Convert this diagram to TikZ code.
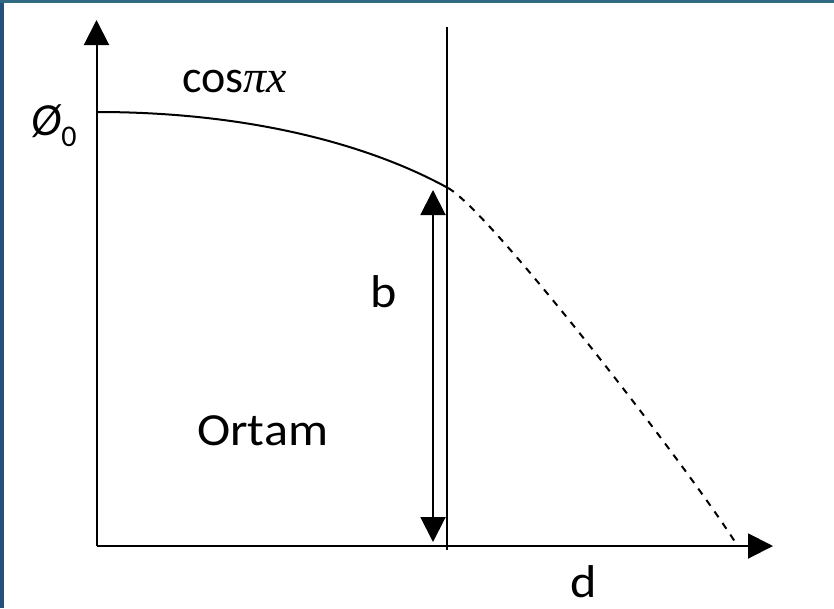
\documentclass[tikz,border=0pt]{standalone}
\usepackage{fontspec}
\setmainfont{Carlito}
\newfontfamily\widefont{Carlito}[FakeStretch=1.09]
\newfontfamily\eqfont{Liberation Serif}
\usetikzlibrary{arrows.meta}
\definecolor{leftblue}{HTML}{25507A}
\definecolor{topteal}{HTML}{326A84}
\tikzset{
  tri/.tip={Triangle[length=25pt,width=25pt]},
  axisline/.style={line width=2pt, -tri},
  thinline/.style={line width=2pt},
  curve/.style={line width=2pt, line join=round},
  dashcurve/.style={line width=2pt, dash pattern=on 7pt off 7pt},
  lbl/.style={anchor=base west, inner sep=0pt, font=\fontsize{46}{55}\selectfont},
}
\begin{document}
\begin{tikzpicture}[x=1pt,y=-1pt]
\fill[white] (0,0) rectangle (834,608);
\useasboundingbox (0,0) rectangle (834,608);
\fill[leftblue] (0,0) rectangle (4,608);
\fill[topteal] (0,0) rectangle (834,2.5);
% coordinates
\coordinate (O) at (96.5,546);
\coordinate (ytip) at (96.5,20);
\coordinate (xtip) at (773,546);
\coordinate (vtop) at (447,27);
\coordinate (vbot) at (447,550);
\coordinate (atop) at (433,190);
\coordinate (abot) at (433,542);
\coordinate (c0) at (97,112);
\coordinate (c1) at (448,188);
\coordinate (c2) at (737,545);
% axes
\draw[axisline] (O) -- (ytip);
\draw[axisline] (O) -- (xtip);
% vertical line
\draw[thinline] (vtop) -- (vbot);
% double arrow
\draw[thinline, tri-tri] (atop) -- (abot);
% curve: solid part and dashed part
\draw[curve] (c0) .. controls (250,112) and (370,145) .. (c1);
\draw[dashcurve] (c1) .. controls (490,211) and (690,470) .. (c2);
% labels
\node[lbl] (cos) at (182,92) {cos{\eqfont\itshape πx}};
\node[lbl] (phi) at (31,135) {\itshape Ø\raisebox{-11pt}{\fontsize{30}{32}\selectfont\upshape 0}};
\node[lbl] (b) at (370,307) {\widefont b};
\node[lbl] (ortam) at (197,445) {\widefont Ortam};
\node[lbl] (d) at (570,597) {\widefont d};
\end{tikzpicture}
\end{document}
